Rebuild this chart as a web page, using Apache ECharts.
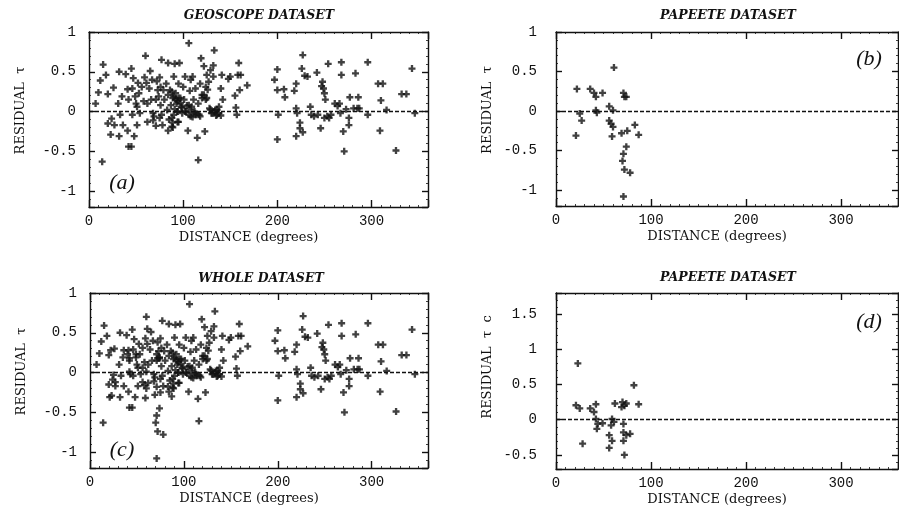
<!DOCTYPE html>
<html>
<head>
<meta charset="utf-8">
<script src="https://cdn.jsdelivr.net/npm/echarts@6/dist/echarts.min.js"></script>
<style>
  html, body { margin: 0; padding: 0; background: #fff; }
  #chart { width: 899px; height: 508px; }
</style>
</head>
<body>
<div id="chart"></div>
<script>
// GEOSCOPE residuals: distance (deg) and residual tau
const geoscopeDist = [
  7, 10, 14, 12, 15, 18, 20, 20, 23, 24, 26, 27, 32, 31, 32, 35, 33, 36, 39, 41,
  42, 41, 42, 45, 45, 47, 46, 46, 48, 51, 50, 49, 51, 52, 53, 54, 56, 58, 59, 61,
  60, 62, 62, 64, 65, 67, 66, 68, 68, 69, 71, 71, 73, 72, 75, 74, 76, 77, 76, 75,
  77, 78, 79, 80, 82, 83, 84, 84, 85, 84, 86, 87, 88, 89, 90, 90, 91, 92, 93, 94,
  95, 95, 96, 97, 98, 99, 100, 101, 102, 103, 105, 106, 106, 107, 108, 108, 109, 110, 111, 112,
  113, 114, 115, 116, 116, 118, 119, 118, 120, 122, 123, 124, 125, 125, 127, 128, 129, 130, 132, 133,
  132, 134, 136, 138, 140, 141, 142, 148, 150, 155, 156, 157, 159, 158, 161, 160, 168,
  88, 90, 92, 94, 95, 97, 91, 94, 99, 102, 104, 106, 108, 110, 113, 117, 120, 122, 124, 126,
  129, 131, 133, 135, 136, 138, 140, 88, 89, 94, 89,
  197, 200, 200, 201, 200, 207, 208, 218, 220, 220, 220, 221, 224, 224, 227, 226, 227, 229, 232, 235,
  236, 239, 242, 243, 246, 247, 248, 249, 250, 251, 250, 253, 254, 255, 257, 261, 264, 266, 267, 268,
  268, 270, 271, 273, 276, 276, 277, 281, 283, 285, 286, 287, 296, 296, 307, 309, 310, 312, 316, 326,
  332, 337, 343, 346
];
const geoscopeRes = [
  0.10, 0.24, -0.63, 0.39, 0.59, 0.46, 0.22, -0.15, -0.29, -0.09, 0.30, -0.17, -0.31, 0.10, 0.50, 0.19, -0.04, -0.17, 0.47, 0.28,
  0.15, -0.24, -0.44, -0.44, 0.54, 0.42, 0.29, -0.04, -0.31, -0.17, 0.10, 0.19, 0.06, 0.36, 0.23, -0.02, 0.31, 0.13, 0.43, 0.36,
  0.70, 0.10, -0.13, 0.29, 0.51, 0.40, 0.15, -0.02, -0.11, -0.06, -0.18, 0.15, 0.27, 0.38, 0.43, 0.19, 0.31, 0.65, 0.08, -0.08,
  -0.04, -0.17, 0.27, 0.15, 0.35, 0.02, 0.61, 0.21, -0.10, -0.24, 0.27, 0.08, -0.19, 0.17, 0.44, -0.04, 0.60, 0.23, 0.10, 0.00,
  -0.13, 0.35, 0.61, 0.17, 0.06, -0.02, 0.31, 0.15, 0.44, 0.00, -0.24, 0.86, 0.08, 0.26, 0.40, -0.06, 0.06, 0.44, 0.15, 0.00,
  0.29, -0.04, -0.33, -0.61, 0.10, 0.35, 0.67, -0.06, 0.21, 0.57, -0.25, 0.31, 0.17, 0.46, 0.375, 0.04, 0.52, -0.02, 0.44, 0.77,
  0.58, 0.02, -0.04, 0.06, 0.29, 0.46, 0.15, 0.41, 0.44, 0.20, 0.05, -0.04, 0.61, 0.46, 0.46, 0.27, 0.33,
  0.25, 0.19, 0.15, 0.13, 0.17, 0.11, 0.03, 0.00, 0.05, 0.00, 0.075, -0.04, 0.025, -0.07, -0.02, -0.04, 0.17, 0.21, 0.15, 0.275,
  0.025, -0.02, 0.00, -0.05, 0.025, -0.02, -0.05, -0.08, -0.14, -0.13, -0.20,
  0.40, 0.53, 0.27, -0.04, -0.35, 0.28, 0.18, 0.26, 0.35, 0.04, -0.31, -0.02, -0.14, -0.21, -0.26, 0.54, 0.71, 0.45, 0.44, 0.06,
  -0.04, -0.06, 0.49, -0.04, -0.21, 0.32, 0.375, 0.29, 0.23, 0.15, -0.08, -0.06, 0.60, -0.08, -0.04, 0.10, 0.07, 0.10, -0.02, 0.62,
  0.46, -0.25, -0.50, 0.03, -0.08, -0.17, 0.18, 0.04, 0.48, 0.04, 0.18, 0.04, -0.04, 0.62, 0.35, -0.24, 0.14, 0.35, 0.02, -0.49,
  0.22, 0.22, 0.54, -0.02
];

// PAPEETE residuals
const papeeteDist = [
  22, 21, 25, 27, 36, 40, 42, 43, 42, 49, 56, 60, 56, 58, 60, 59, 61, 69, 70, 71,
  72, 74, 71, 74, 72, 78, 75, 71, 83, 87
];
const papeeteRes = [
  0.28, -0.31, -0.03, -0.12, 0.28, 0.23, 0.18, -0.02, 0.01, 0.23, 0.06, 0.01, -0.12, -0.16, -0.20, -0.32, 0.55, -0.28, -0.63, 0.23,
  0.18, 0.18, -0.54, -0.45, -0.74, -0.78, -0.25, -1.08, -0.175, -0.30
];

// PAPEETE corrected residuals (tau c)
const papeeteCorrDist = [
  23, 21, 25, 28, 36, 40, 42, 42, 44, 43, 49, 56, 59, 56, 59, 61, 58, 62, 69, 70,
  72, 74, 71, 71, 71, 74, 78, 72, 82, 87
];
const papeeteCorrRes = [
  0.80, 0.205, 0.16, -0.34, 0.16, 0.11, 0.22, 0.01, -0.06, -0.13, -0.05, -0.22, -0.30, -0.40, 0.01, -0.03, -0.08, 0.23, 0.18, 0.25,
  0.20, 0.23, -0.06, -0.18, -0.30, -0.22, -0.20, -0.50, 0.49, 0.22
];

const panelTitles = ['GEOSCOPE DATASET', 'PAPEETE DATASET', 'WHOLE DATASET', 'PAPEETE DATASET'];
const panelLetters = ['(a)', '(b)', '(c)', '(d)'];
const yNames = ['RESIDUAL  \u03c4', 'RESIDUAL  \u03c4', 'RESIDUAL  \u03c4', 'RESIDUAL  \u03c4  c'];

function pairs(xs, ys) {
  return xs.map((x, i) => [x, ys[i]]);
}

// (c) is the whole dataset: geoscope + papeete
const panelData = [
  pairs(geoscopeDist, geoscopeRes),
  pairs(papeeteDist, papeeteRes),
  pairs(geoscopeDist, geoscopeRes).concat(pairs(papeeteDist, papeeteRes)),
  pairs(papeeteCorrDist, papeeteCorrRes),
];

const grids = [
  { left: 89, top: 32, width: 339, height: 175 },
  { left: 556, top: 32, width: 342, height: 174 },
  { left: 90, top: 293, width: 338, height: 175 },
  { left: 556, top: 293, width: 342, height: 176 },
];
const yRanges = [[-1.2, 1], [-1.2, 1], [-1.2, 1], [-0.7, 1.8]];
const yNamePad = [18, 18, 18, 28];
const yLabelMargin = [13, 19, 13, 19];

const ink = '#111';
const plusPath = 'path://M2,0H4V2H6V4H4V6H2V4H0V2H2Z';
const tickFont = 'Liberation Mono';
const serif = 'DejaVu Serif';

const xAxes = [];
const yAxes = [];
const series = [];
const graphics = [];

grids.forEach((g, i) => {
  const lineStyle = { color: ink, width: 1.4 };
  const minor = { show: true, splitNumber: 10, length: 2, lineStyle: { color: ink, width: 0.8 } };
  const minorY = { show: true, splitNumber: 5, length: 2, lineStyle: { color: ink, width: 0.8 } };
  xAxes.push({
    gridIndex: i, type: 'value', position: 'bottom', min: 0, max: 360, interval: 100,
    name: 'DISTANCE (degrees)', nameLocation: 'middle', nameGap: 24,
    nameTextStyle: { fontFamily: serif, fontSize: 13, color: ink, padding: [0, 20, 0, 0] },
    axisLine: { onZero: false, lineStyle },
    axisTick: { inside: true, length: 7, lineStyle },
    minorTick: minor,
    axisLabel: { fontFamily: tickFont, fontSize: 14, color: ink, margin: 7, showMaxLabel: false },
    splitLine: { show: false },
  });
  xAxes.push({
    gridIndex: i, type: 'value', position: 'top', min: 0, max: 360, interval: 100,
    axisLine: { onZero: false, lineStyle },
    axisTick: { inside: true, length: 7, lineStyle },
    minorTick: minor,
    axisLabel: { show: false },
    splitLine: { show: false },
  });
  yAxes.push({
    gridIndex: i, type: 'value', position: 'left', min: yRanges[i][0], max: yRanges[i][1],
    splitNumber: 5,
    name: yNames[i], nameLocation: 'middle', nameGap: 62,
    nameTextStyle: { fontFamily: serif, fontSize: 13, color: ink, padding: [0, 0, 0, yNamePad[i]] },
    axisLine: { onZero: false, lineStyle },
    axisTick: { inside: true, length: 6, lineStyle },
    minorTick: minorY,
    axisLabel: {
      fontFamily: tickFont, fontSize: 14, color: ink, margin: yLabelMargin[i],
      showMinLabel: false, showMaxLabel: i !== 3,
      formatter: v => String(v),
    },
    splitLine: { show: false },
  });
  yAxes.push({
    gridIndex: i, type: 'value', position: 'right', min: yRanges[i][0], max: yRanges[i][1],
    splitNumber: 5,
    axisLine: { onZero: false, lineStyle },
    axisTick: { inside: true, length: 6, lineStyle },
    minorTick: minorY,
    axisLabel: { show: false },
    splitLine: { show: false },
  });
  series.push({
    type: 'scatter',
    xAxisIndex: 2 * i,
    yAxisIndex: 2 * i,
    data: panelData[i],
    symbol: plusPath,
    symbolSize: 7,
    itemStyle: { color: ink },
    silent: true,
    markLine: {
      silent: true,
      symbol: 'none',
      label: { show: false },
      lineStyle: { color: ink, width: 1.3, type: [4, 2] },
      data: [{ yAxis: 0 }],
    },
  });
});

const titlePos = [[259, 16], [728, 16], [261, 279], [728, 278]];
titlePos.forEach((p, i) => {
  graphics.push({
    type: 'text', x: p[0], y: p[1],
    style: {
      text: panelTitles[i], align: 'center', verticalAlign: 'middle',
      font: 'italic bold 12.5px "DejaVu Serif"', fill: ink,
    },
  });
});

const letterPos = [[122, 183], [869, 59], [122, 450], [869, 322]];
letterPos.forEach((p, i) => {
  graphics.push({
    type: 'text', x: p[0], y: p[1],
    style: {
      text: panelLetters[i], align: 'center', verticalAlign: 'middle',
      font: 'italic 22px "Liberation Serif"', fill: ink,
    },
  });
});

const chart = echarts.init(document.getElementById('chart'), null, { renderer: 'canvas' });
chart.setOption({
  animation: false,
  backgroundColor: '#fff',
  grid: grids,
  xAxis: xAxes,
  yAxis: yAxes,
  series: series,
  graphic: graphics,
});
</script>
</body>
</html>
